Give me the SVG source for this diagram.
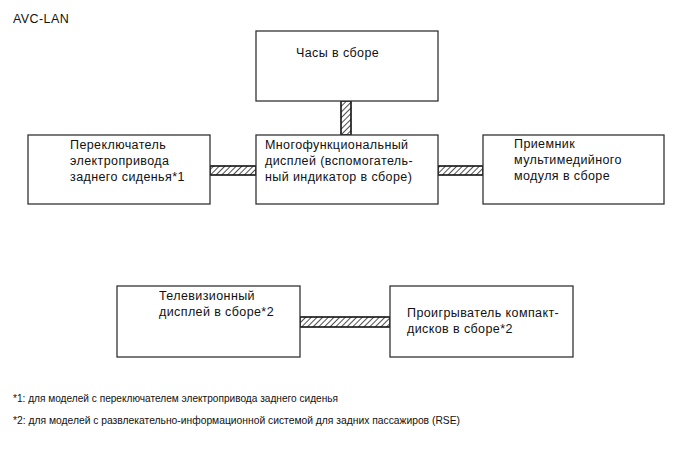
<svg xmlns="http://www.w3.org/2000/svg" width="689" height="464" viewBox="0 0 689 464">
<style>
.box{fill:#fff;stroke:#333;stroke-width:1.3}
.t{font-family:"Liberation Sans",Arial,sans-serif;font-size:12.5px;letter-spacing:0.4px;fill:#111}
.f{font-family:"Liberation Sans",Arial,sans-serif;font-size:11px;fill:#111}
.bus{fill:url(#hatch);stroke:#111;stroke-width:1.6}
</style>
<defs>
<pattern id="hatch" patternUnits="userSpaceOnUse" width="4" height="4" patternTransform="rotate(45)">
<rect width="4" height="4" fill="#fff"/>
<line x1="0" y1="0" x2="0" y2="4" stroke="#222" stroke-width="1.6"/>
</pattern>
</defs>
<rect width="689" height="464" fill="#fff"/>
<text class="t" x="13" y="23">AVC-LAN</text>
<g id="connectors">
<rect class="bus" x="341" y="101" width="10" height="34"/>
<rect class="bus" x="210" y="166" width="46" height="9"/>
<rect class="bus" x="438" y="166" width="45" height="9"/>
<rect class="bus" x="300" y="317" width="90" height="10"/>
</g>
<g id="clock">
<rect class="box" x="256" y="31" width="182" height="70"/>
<text class="t" x="296" y="57">Часы в сборе</text>
</g>
<g id="seat-switch">
<rect class="box" x="28" y="135" width="182" height="69"/>
<text class="t" x="70" y="149">Переключатель</text>
<text class="t" x="70" y="165">электропривода</text>
<text class="t" x="70" y="181">заднего сиденья*1</text>
</g>
<g id="multi-display">
<rect class="box" x="256" y="135" width="182" height="69"/>
<text class="t" x="265" y="149">Многофункциональный</text>
<text class="t" x="265" y="165">дисплей (вспомогатель-</text>
<text class="t" x="265" y="181">ный индикатор в сборе)</text>
</g>
<g id="receiver">
<rect class="box" x="483" y="135" width="181" height="69"/>
<text class="t" x="514" y="148">Приемник</text>
<text class="t" x="514" y="164">мультимедийного</text>
<text class="t" x="514" y="180">модуля в сборе</text>
</g>
<g id="tv-display">
<rect class="box" x="117" y="286" width="183" height="71"/>
<text class="t" x="159" y="300">Телевизионный</text>
<text class="t" x="159" y="316">дисплей в сборе*2</text>
</g>
<g id="cd-player">
<rect class="box" x="390" y="286" width="183" height="71"/>
<text class="t" x="407" y="317">Проигрыватель компакт-</text>
<text class="t" x="407" y="333">дисков в сборе*2</text>
</g>
<text class="f" x="13" y="402" textLength="325" lengthAdjust="spacingAndGlyphs">*1: для моделей с переключателем электропривода заднего сиденья</text>
<text class="f" x="13" y="424" textLength="447" lengthAdjust="spacingAndGlyphs">*2: для моделей с развлекательно-информационной системой для задних пассажиров (RSE)</text>
</svg>
